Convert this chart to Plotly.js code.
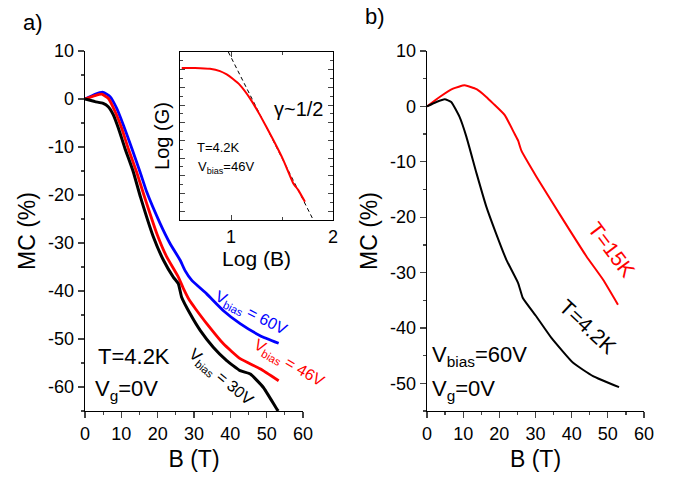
<!DOCTYPE html>
<html><head><meta charset="utf-8">
<script src="https://cdn.plot.ly/plotly-3.0.1.min.js"></script>
<style>html,body{margin:0;padding:0;background:#fff}#plot{width:677px;height:481px}</style>
</head><body><div id="plot"></div>
<script>
// ---- Data ----
// Panel a): MC (%) vs B (T) at T=4.2K, Vg=0V
const bias60B  = [0, 2.75, 5.0, 6.9, 8.7, 10.55, 12.9, 15.15, 17, 20.66, 23.4, 26.2, 27.5, 29.4, 33.5, 38.1, 42.7, 48.2, 53.3];
const bias60MC = [0, 1.0, 1.4, 0.5, -1.9, -5.4, -10.3, -15.2, -19.4, -25.9, -30.1, -33.6, -35.7, -37.8, -40.6, -44.1, -46.8, -49.3, -50.9];
const bias46B  = [0, 2.75, 4.6, 6.4, 8.3, 10.1, 11.9, 14.2, 16.3, 19.75, 22.5, 25.7, 27.1, 28.8, 30.5, 33.5, 38.1, 42.7, 48.2, 53.3];
const bias46MC = [0, 0.7, 1.0, 0.15, -2.65, -6.1, -10.3, -15.2, -20.2, -28, -32.9, -37.1, -39.5, -42, -43.8, -46.8, -51, -54.1, -56.2, -58.7];
const bias30B  = [0, 2.75, 5, 6.4, 7.8, 9.2, 11, 13.3, 15.3, 18.8, 21.6, 24.3, 25.7, 26.6, 28.9, 31.7, 35.3, 39, 42.7, 45.5, 49.1, 52.8, 53.2];
const bias30MC = [0, -0.55, -0.9, -1.6, -3.3, -6.1, -10.3, -15.2, -20.5, -28.7, -33.6, -37.1, -38.5, -41.3, -44.7, -48.2, -51.7, -54.5, -56.6, -57.3, -60.1, -64.6, -65];
// Inset: Log(G) vs Log(B), Vbias=46V
const insetLogB = [0.517, 0.647, 0.794, 0.892, 0.958, 1.02, 1.088, 1.186, 1.284, 1.415, 1.513, 1.611, 1.66, 1.725];
const insetLogG = [8.1, 8.1, 8.05, 7.92, 7.73, 7.47, 7.13, 6.38, 5.43, 4.02, 2.89, 1.57, 1.19, 0.53];
const fitLogB = [0.974, 1.807];
const fitLogG = [9.0, -0.5];
// Panel b): Vbias=60V, Vg=0V
const t15B  = [0, 3.5, 7.2, 10.4, 13.7, 16.4, 18.25, 21.5, 24.25, 25.2, 26.1, 30.25, 34.8, 39.4, 44.1, 48.7, 52.8];
const t15MC = [0, 1.7, 3.2, 3.8, 3.1, 1.7, 0.54, -1.57, -5.0, -6.2, -8.0, -12.7, -17.5, -22.3, -27.1, -31.3, -35.8];
const t42B  = [0, 2.6, 4.9, 6.7, 9, 10.9, 13.7, 16.4, 18.9, 21.95, 25.2, 26.5, 30.2, 34.4, 40.4, 45.9, 53.1];
const t42MC = [0, 0.8, 1.3, 0.8, -1.9, -5.5, -12.1, -18.1, -22.6, -27.7, -31.9, -34.6, -37.9, -41.8, -46.3, -48.7, -50.7];
// Tick labels
const xTicks = [0, 10, 20, 30, 40, 50, 60];
const yTicksA = [10, 0, -10, -20, -30, -40, -50, -60];
const yTicksB = [10, 0, -10, -20, -30, -40, -50];
const yTextA = ['10', '0', '-10', '-20', '-30', '-40', '-50', '-60'];
const yTextB = ['10', '0', '-10', '-20', '-30', '-40', '-50'];

const W = 677, H = 481;
const px = v => v / W, py = v => 1 - v / H;
const FONT = 'Liberation Sans, Arial, sans-serif';

const sp = {shape: 'spline', smoothing: 0.4};
const traces = [
  {x: bias60B, y: bias60MC, xaxis: 'x', yaxis: 'y', mode: 'lines', line: Object.assign({color: '#0000ff', width: 2.8}, sp)},
  {x: bias46B, y: bias46MC, xaxis: 'x', yaxis: 'y', mode: 'lines', line: Object.assign({color: '#ff0000', width: 2.8}, sp)},
  {x: bias30B, y: bias30MC, xaxis: 'x', yaxis: 'y', mode: 'lines', line: Object.assign({color: '#000000', width: 3}, sp)},
  {x: fitLogB, y: fitLogG, xaxis: 'x3', yaxis: 'y3', mode: 'lines', line: {color: '#000', width: 1, dash: '4px,3px'}},
  {x: insetLogB, y: insetLogG, xaxis: 'x3', yaxis: 'y3', mode: 'lines', line: Object.assign({color: '#ff0000', width: 2}, sp)},
  {x: t15B, y: t15MC, xaxis: 'x2', yaxis: 'y2', mode: 'lines', line: Object.assign({color: '#ff0000', width: 2}, sp)},
  {x: t42B, y: t42MC, xaxis: 'x2', yaxis: 'y2', mode: 'lines', line: Object.assign({color: '#000000', width: 2}, sp)}
];

const mainX = (dom, anchor) => ({
  domain: dom, anchor: anchor, range: [0, 60], tickvals: xTicks, ticks: 'outside', ticklen: 6, tickwidth: 1.3,
  showline: true, linecolor: '#000', linewidth: 1.3, showgrid: false, zeroline: false, mirror: false,
  minor: {dtick: 5, tick0: 0, ticks: 'outside', ticklen: 3, tickwidth: 1.3, showgrid: false},
  tickfont: {family: FONT, size: 18, color: '#000'},
  title: {text: 'B (T)', font: {family: FONT, size: 23, color: '#000'}, standoff: 8}
});
const mainY = (dom, anchor, rng, tv, tt) => ({
  domain: dom, anchor: anchor, range: rng, tickmode: 'array', tickvals: tv, ticktext: tt, ticks: 'outside', ticklen: 6, tickwidth: 1.3,
  showline: true, linecolor: '#000', linewidth: 1.3, showgrid: false, zeroline: false, mirror: false,
  minor: {dtick: 5, tick0: 0, ticks: 'outside', ticklen: 3, tickwidth: 1.3, showgrid: false},
  tickfont: {family: FONT, size: 18, color: '#000'},
  title: {text: 'MC (%)', font: {family: FONT, size: 23, color: '#000'}, standoff: 6}
});

const yDom = [py(411), py(51)];
const layout = {
  width: W, height: H, margin: {l: 0, r: 0, t: 0, b: 0}, showlegend: false,
  paper_bgcolor: '#fff', plot_bgcolor: 'rgba(0,0,0,0)', font: {family: FONT, color: '#000'},
  xaxis: mainX([px(85), px(303)], 'y'),
  yaxis: mainY(yDom, 'x', [-65, 10], yTicksA, yTextA),
  xaxis2: mainX([px(427), px(644)], 'y2'),
  yaxis2: mainY(yDom, 'x2', [-55, 10], yTicksB, yTextB),
  xaxis3: {domain: [px(180), px(333)], anchor: 'y3', range: [0.5, 2], tickvals: [1, 2], ticks: 'inside', ticklen: 5,
    showline: true, linecolor: '#000', linewidth: 1, mirror: 'ticks', showgrid: false, zeroline: false,
    minor: {dtick: 0.5, tick0: 0, ticks: 'inside', ticklen: 3, showgrid: false},
    tickfont: {family: FONT, size: 18, color: '#000'},
    title: {text: 'Log (B)', font: {family: FONT, size: 21, color: '#000'}, standoff: 2}},
  yaxis3: {domain: [py(220), py(52)], anchor: 'x3', range: [-0.5, 9], dtick: 1, tick0: 0, ticks: 'inside', ticklen: 5,
    showline: true, linecolor: '#000', linewidth: 1, mirror: 'ticks', showgrid: false, zeroline: false, showticklabels: false,
    minor: {dtick: 0.5, tick0: 0, ticks: 'inside', ticklen: 3, showgrid: false},
    title: {text: 'Log (G)', font: {family: FONT, size: 20, color: '#000'}, standoff: 4}},
  annotations: []
};

function ann(text, x, y, size, color, angle) {
  layout.annotations.push({text: text, xref: 'paper', yref: 'paper', x: px(x), y: py(y), xanchor: 'center', yanchor: 'middle',
    showarrow: false, textangle: angle || 0, font: {family: FONT, size: size, color: color || '#000'}});
}
ann('a)', 33, 22, 22);
ann('b)', 375, 17, 22);
ann('γ~1/2', 298, 109, 20);
ann('T=4.2K', 219, 147, 13);
ann('V<sub>bias</sub>=46V', 226, 167, 13);
ann('T=4.2K', 134, 356, 22);
ann('V<sub>g</sub>=0V', 126, 390, 22);
ann('V<sub>bias</sub> = 60V', 251, 313, 16, '#0000ff', 27);
ann('V<sub>bias</sub> = 46V', 289, 363, 16, '#ff0000', 30);
ann('V<sub>bias</sub> = 30V', 221, 377, 16, '#000', 40);
ann('T=15K', 612, 249, 21, '#ff0000', 53);
ann('T=4.2K', 588, 326, 21, '#000', 43);
ann('V<sub>bias</sub>=60V', 479, 356, 22);
ann('V<sub>g</sub>=0V', 463, 390, 22);

Plotly.newPlot('plot', traces, layout, {staticPlot: true, displayModeBar: false});
</script></body></html>
